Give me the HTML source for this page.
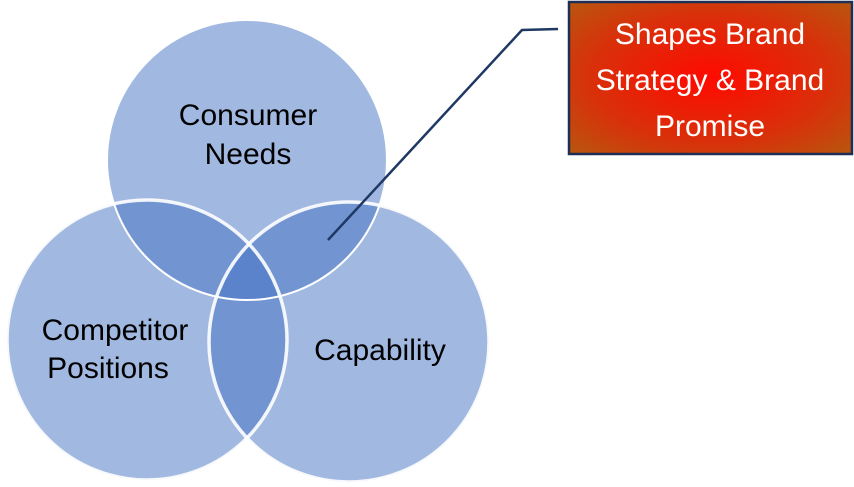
<!DOCTYPE html>
<html><head><style>
html,body{margin:0;padding:0;background:#fff;width:854px;height:487px;overflow:hidden}
text{font-family:"Liberation Sans",sans-serif}
</style></head><body>
<svg width="854" height="487" viewBox="0 0 854 487" xmlns="http://www.w3.org/2000/svg">
<defs>
<radialGradient id="g" cx="50%" cy="50%" r="70%">
<stop offset="0" stop-color="#ff0a00"/>
<stop offset="0.6" stop-color="#d9300a"/>
<stop offset="1" stop-color="#b8560f"/>
</radialGradient>
</defs>
<circle cx="247" cy="160" r="140" fill="#4472C4" fill-opacity="0.5"/>
<circle cx="147" cy="340" r="140" fill="#4472C4" fill-opacity="0.5"/>
<circle cx="349" cy="342" r="140" fill="#4472C4" fill-opacity="0.5"/>
<circle cx="147" cy="340" r="140" fill="none" stroke="#fff" stroke-width="3.5" stroke-opacity="0.9"/>
<circle cx="349" cy="342" r="140" fill="none" stroke="#fff" stroke-width="3.5" stroke-opacity="0.9"/>
<circle cx="247" cy="160" r="140" fill="none" stroke="#fff" stroke-width="2"/>
<text x="248" y="125" font-size="30" text-anchor="middle" fill="#000">Consumer</text>
<text x="248" y="164" font-size="30" text-anchor="middle" fill="#000">Needs</text>
<text x="115" y="340" font-size="30" text-anchor="middle" fill="#000">Competitor</text>
<text x="108" y="378" font-size="30" text-anchor="middle" fill="#000">Positions</text>
<text x="380" y="360" font-size="30" text-anchor="middle" fill="#000">Capability</text>
<polyline points="328,240 522,30 558,29" fill="none" stroke="#1f3864" stroke-width="2.5"/>
<rect x="569" y="2" width="283" height="152" fill="url(#g)" stroke="#1f2e55" stroke-width="2.5"/>
<text x="710" y="44" font-size="30" text-anchor="middle" fill="#fff">Shapes Brand</text>
<text x="710" y="90" font-size="30" text-anchor="middle" fill="#fff">Strategy &amp; Brand</text>
<text x="710" y="136" font-size="30" text-anchor="middle" fill="#fff">Promise</text>
</svg>
</body></html>
